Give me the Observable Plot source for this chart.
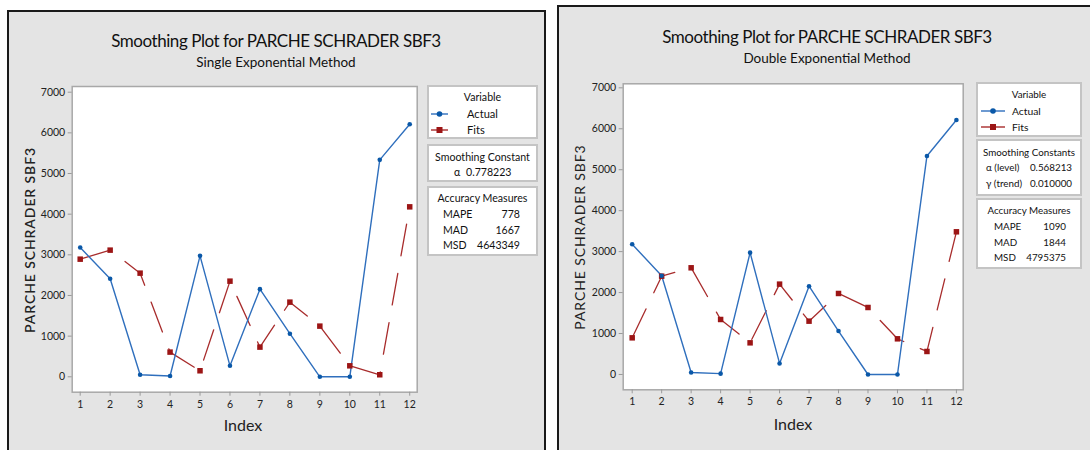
<!DOCTYPE html>
<html>
<head>
<meta charset="utf-8">
<script src="https://cdn.jsdelivr.net/npm/d3@7"></script>
<script src="https://cdn.jsdelivr.net/npm/@observablehq/plot@0.6"></script>
<style>
  html, body { margin: 0; padding: 0; background: #ffffff; }
  body { width: 1090px; height: 450px; position: relative; overflow: hidden; font-family: Lato, "Open Sans", sans-serif; }
  .layer { position: absolute; left: 0; top: 0; }
  .plotbox { position: absolute; }
</style>
</head>
<body>
<svg id="decor" class="layer" width="1090" height="450"></svg>
<div id="leftPlot" class="plotbox" style="left:20px; top:80px;"></div>
<div id="rightPlot" class="plotbox" style="left:570px; top:78px;"></div>
<script>
// ---------- data ----------
const indexValues = [1, 2, 3, 4, 5, 6, 7, 8, 9, 10, 11, 12];
const actual = [3180, 2410, 50, 20, 2975, 270, 2156, 1060, 0, 0, 5336, 6213];
const fitsSingle = [2893, 3115, 2549, 607, 148, 2352, 730, 1836, 1246, 270, 50, 4180];
const fitsDouble = [895, 2401, 2605, 1343, 773, 2206, 1302, 1978, 1636, 871, 562, 3484];
const yTicks = [0, 1000, 2000, 3000, 4000, 5000, 6000, 7000];
const seriesNames = ["Actual", "Fits"];
const mainTitle = "Smoothing Plot for PARCHE SCHRADER SBF3";
const subtitles = ["Single Exponential Method", "Double Exponential Method"];
const yLabel = "PARCHE SCHRADER SBF3";
const xLabel = "Index";
const constantsTitles = ["Smoothing Constant", "Smoothing Constants"];
const singleConstants = [["α", "0.778223"]];
const doubleConstants = [["α (level)", "0.568213"], ["γ (trend)", "0.010000"]];
const accuracyTitle = "Accuracy Measures";
const singleAccuracy = [["MAPE", "778"], ["MAD", "1667"], ["MSD", "4643349"]];
const doubleAccuracy = [["MAPE", "1090"], ["MAD", "1844"], ["MSD", "4795375"]];

const blueLine = "#2f6fbd", blueDot = "#0a58a8";
const redLine = "#a82c2c", redDot = "#9c1515";

function rows(values) { return indexValues.map((x, i) => ({x, y: values[i]})); }

function makePlot(fits, o) {
  return Plot.plot({
    width: o.width, height: o.height,
    marginLeft: o.ml, marginRight: o.mr, marginTop: o.mt, marginBottom: o.mb,
    x: {domain: o.xd, label: null},
    y: {domain: o.yd, label: null},
    style: {fontFamily: "Lato, sans-serif", fontSize: "10.5px", color: "#222", background: "transparent"},
    marks: [
      Plot.frame({fill: "white", stroke: "#a8a8a8", strokeWidth: 1.5}),
      Plot.axisX({ticks: indexValues, tickSize: 4, tickPadding: 4, stroke: "#9a9a9a", fill: "#222", tickFormat: d3.format("d")}),
      Plot.axisY({ticks: yTicks, tickSize: 4, tickPadding: 3, stroke: "#9a9a9a", fill: "#222", tickFormat: d3.format("d")}),
      Plot.line(rows(fits), {x: "x", y: "y", stroke: redLine, strokeWidth: 1.3, strokeDasharray: "32,18"}),
      Plot.line(rows(actual), {x: "x", y: "y", stroke: blueLine, strokeWidth: 1.4}),
      Plot.dot(rows(fits), {x: "x", y: "y", symbol: "square", r: 3.1, fill: redDot, stroke: "none"}),
      Plot.dot(rows(actual), {x: "x", y: "y", r: 2.3, fill: blueDot, stroke: "none"})
    ]
  });
}

document.getElementById("leftPlot").appendChild(makePlot(fitsSingle, {
  width: 405, height: 340, ml: 51.7, mr: 8.3, mt: 6, mb: 28.3, xd: [0.733, 12.25], yd: [-379, 7140]
}));
document.getElementById("rightPlot").appendChild(makePlot(fitsDouble, {
  width: 400, height: 342, ml: 52.7, mr: 7.3, mt: 5.3, mb: 30.7, xd: [0.695, 12.23], yd: [-374, 7098]
}));

// ---------- decoration: panels, titles, legends ----------
const svg = d3.select("#decor");
const F = "Lato, 'Open Sans', sans-serif";
// panels
svg.append("rect").attr("x", 8).attr("y", 11).attr("width", 537).attr("height", 460)
  .attr("fill", "#e4e4e4").attr("stroke", "#1a1a1a").attr("stroke-width", 2);
svg.append("rect").attr("x", 558).attr("y", 6).attr("width", 560).attr("height", 460)
  .attr("fill", "#e4e4e4").attr("stroke", "#1a1a1a").attr("stroke-width", 2);

function text(x, y, s, size, opts = {}) {
  const t = svg.append("text").attr("x", x).attr("y", y).text(s)
    .attr("font-family", F).attr("font-size", size).attr("fill", opts.fill || "#111")
    .attr("text-anchor", opts.anchor || "start");
  if (opts.weight) t.attr("font-weight", opts.weight);
  if (opts.ls != null) t.attr("letter-spacing", opts.ls);
  if (opts.rotate) t.attr("transform", `rotate(-90 ${x} ${y})`);
  return t;
}

function panel(p) {
  const fs = p.legendSize;
  text(p.cx, p.titleY, mainTitle, 17, {anchor: "middle", ls: -0.45});
  text(p.cx, p.subY, p.subtitle, 13.5, {anchor: "middle"});
  text(p.ylx, p.yly, yLabel, 14, {anchor: "middle", rotate: true, ls: 0.9, weight: p.yWeight, fill: "#222"});
  text(p.xlx, p.xly, xLabel, 16, {anchor: "middle", fill: "#222"});
  // legend boxes
  const L = p.legend;
  const box = (y0, y1) => svg.append("rect").attr("x", L.x0).attr("y", y0).attr("width", L.x1 - L.x0).attr("height", y1 - y0)
    .attr("fill", "white").attr("stroke", "#c4c4c4").attr("stroke-width", 2);
  box(L.b1[0], L.b1[1]);
  box(L.b2[0], L.b2[1]);
  box(L.b3[0], L.b3[1]);
  const mid = (L.x0 + L.x1) / 2;
  text(mid, L.b1[0] + 15, "Variable", fs, {anchor: "middle"});
  const sym = [[blueLine, blueDot, "circle"], [redLine, redDot, "square"]];
  seriesNames.forEach((name, i) => {
    const y = L.b1[0] + 28 + i * 16;
    svg.append("line").attr("x1", L.lx0).attr("x2", L.lx1).attr("y1", y).attr("y2", y).attr("stroke", sym[i][0]).attr("stroke-width", 1.4);
    const mx = (L.lx0 + L.lx1) / 2;
    if (sym[i][2] === "circle") svg.append("circle").attr("cx", mx).attr("cy", y).attr("r", 2.8).attr("fill", sym[i][1]);
    else svg.append("rect").attr("x", mx - 3).attr("y", y - 3).attr("width", 6).attr("height", 6).attr("fill", sym[i][1]);
    text(L.tx, y + 4, name, fs + 0.5);
  });
  text(mid, L.b2[0] + 16, p.constTitle, fs, {anchor: "middle"});
  p.constants.forEach((r, i) => {
    const y = L.b2[0] + 31 + i * 16;
    text(L.cA, y, r[0], fs);
    text(L.cV, y, r[1], fs, {anchor: p.constants.length === 1 ? "start" : "end"});
  });
  text(mid, L.b3[0] + 15, accuracyTitle, fs, {anchor: "middle"});
  p.accuracy.forEach((r, i) => {
    const y = L.b3[0] + 31 + i * 15.5;
    text(L.aK, y, r[0], fs);
    text(L.aV, y, r[1], fs, {anchor: "end"});
  });
}

panel({
  cx: 276, titleY: 47, subY: 67, subtitle: subtitles[0], legendSize: 10.6,
  ylx: 35, yly: 240, yWeight: 600, xlx: 243, xly: 431,
  constTitle: constantsTitles[0], constants: singleConstants, accuracy: singleAccuracy,
  legend: {x0: 428, x1: 537, b1: [86, 138], b2: [145, 181], b3: [187, 255],
           lx0: 431, lx1: 448, tx: 467, cA: 454, cV: 466, aK: 443, aV: 520}
});
panel({
  cx: 827, titleY: 43, subY: 63, subtitle: subtitles[1], legendSize: 9.8,
  ylx: 585, yly: 237, yWeight: 400, xlx: 793, xly: 430,
  constTitle: constantsTitles[1], constants: doubleConstants, accuracy: doubleAccuracy,
  legend: {x0: 977, x1: 1081, b1: [83, 136], b2: [140, 195], b3: [199, 268],
           lx0: 981, lx1: 1005, tx: 1012, cA: 986, cV: 1072, aK: 994, aV: 1066}
});
</script>
</body>
</html>
